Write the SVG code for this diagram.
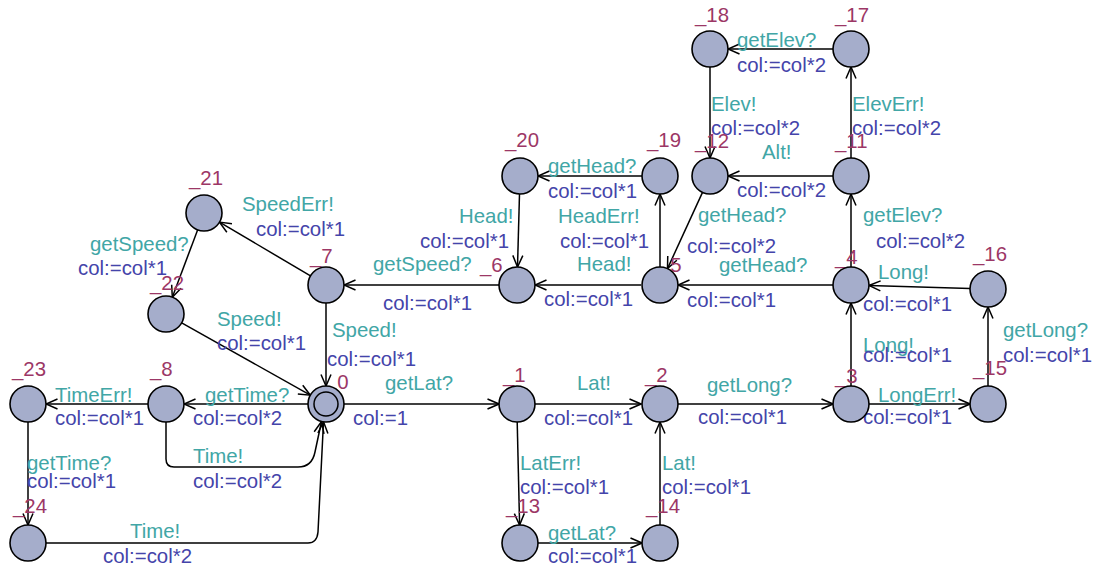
<svg xmlns="http://www.w3.org/2000/svg" width="1095" height="572" viewBox="0 0 1095 572">
<style>
text{font-family:"Liberation Sans",Arial,sans-serif;font-size:20.4px}
.nm{fill:#9c3766}
.sy{fill:#41a6a6}
.as{fill:#4444aa}
.loc{fill:#a5adcb;stroke:#000;stroke-width:1.6}
.e{fill:none;stroke:#000;stroke-width:1.5;marker-end:url(#arr)}
</style>
<defs>
<marker id="arr" viewBox="0 0 13 12" refX="12.5" refY="6" markerWidth="13" markerHeight="12" markerUnits="userSpaceOnUse" orient="auto">
<path d="M1,1 L12.5,6 L1,11" fill="none" stroke="#000" stroke-width="1.5"/>
</marker>
</defs>
<rect width="1095" height="572" fill="#fff"/>
<g id="connectors">
<g><path class="e" d="M344,404 L499,404"/><text class="sy" x="385" y="390">getLat?</text><text class="as" x="353" y="425">col:=1</text></g>
<g><path class="e" d="M535,404 L641,404"/><text class="sy" x="577" y="390">Lat!</text><text class="as" x="544" y="425">col:=col*1</text></g>
<g><path class="e" d="M678,404 L833,404"/><text class="sy" x="707" y="392">getLong?</text><text class="as" x="698" y="424">col:=col*1</text></g>
<g><path class="e" d="M869,404 L970,404"/><text class="sy" x="878" y="402">LongErr!</text><text class="as" x="863" y="424">col:=col*1</text></g>
<g><path class="e" d="M988,386 L988,307"/><text class="sy" x="1003" y="337">getLong?</text><text class="as" x="1003" y="362">col:=col*1</text></g>
<g><path class="e" d="M970,288.5 L869,285.5"/><text class="sy" x="878" y="279">Long!</text><text class="as" x="863" y="311">col:=col*1</text></g>
<g><path class="e" d="M851,386 L851,303"/><text class="sy" x="863" y="352">Long!</text><text class="as" x="863" y="362">col:=col*1</text></g>
<g><path class="e" d="M833,285 L678,285"/><text class="sy" x="719" y="272">getHead?</text><text class="as" x="687" y="307">col:=col*1</text></g>
<g><path class="e" d="M851,267 L851,194"/><text class="sy" x="863" y="222">getElev?</text><text class="as" x="876" y="248">col:=col*2</text></g>
<g><path class="e" d="M851,158 L851,67"/><text class="sy" x="852" y="111">ElevErr!</text><text class="as" x="852" y="135">col:=col*2</text></g>
<g><path class="e" d="M833,49 L728,49"/><text class="sy" x="737" y="47">getElev?</text><text class="as" x="737" y="72">col:=col*2</text></g>
<g><path class="e" d="M710,67 L710,158"/><text class="sy" x="711" y="111">Elev!</text><text class="as" x="711" y="135">col:=col*2</text></g>
<g><path class="e" d="M833,176 L728,176"/><text class="sy" x="762" y="159">Alt!</text><text class="as" x="737" y="197">col:=col*2</text></g>
<g><path class="e" d="M702.5,192.4 L667.5,268.6"/><text class="sy" x="698" y="222">getHead?</text><text class="as" x="687" y="253">col:=col*2</text></g>
<g><path class="e" d="M660,267 L660,194"/><text class="sy" x="558" y="223">HeadErr!</text><text class="as" x="560" y="248">col:=col*1</text></g>
<g><path class="e" d="M642,176 L538,176"/><text class="sy" x="548" y="173">getHead?</text><text class="as" x="548" y="198">col:=col*1</text></g>
<g><path class="e" d="M519.5,194 L517.5,267"/><text class="sy" x="459" y="223">Head!</text><text class="as" x="420" y="248">col:=col*1</text></g>
<g><path class="e" d="M641,285 L535,285"/><text class="sy" x="577" y="271">Head!</text><text class="as" x="544" y="306">col:=col*1</text></g>
<g><path class="e" d="M499,285 L344,285"/><text class="sy" x="373" y="271">getSpeed?</text><text class="as" x="383" y="310">col:=col*1</text></g>
<g><path class="e" d="M310.5,275.9 L219.5,222.1"/><text class="sy" x="242" y="211">SpeedErr!</text><text class="as" x="256" y="236">col:=col*1</text></g>
<g><path class="e" d="M197.7,229.8 L172.3,297.2"/><text class="sy" x="90" y="251">getSpeed?</text><text class="as" x="78" y="275">col:=col*1</text></g>
<g><path class="e" d="M181.7,322.8 L310.3,395.2"/><text class="sy" x="217" y="326">Speed!</text><text class="as" x="217" y="350">col:=col*1</text></g>
<g><path class="e" d="M326,303 L326,386"/><text class="sy" x="332" y="337">Speed!</text><text class="as" x="327" y="366">col:=col*1</text></g>
<g><path class="e" d="M308,404 L184,404"/><text class="sy" x="205" y="402">getTime?</text><text class="as" x="193" y="425">col:=col*2</text></g>
<g><path class="e" d="M148,404 L46,404"/><text class="sy" x="55" y="402">TimeErr!</text><text class="as" x="55" y="425">col:=col*1</text></g>
<g><path class="e" d="M28,422 L28,525"/><text class="sy" x="27" y="470">getTime?</text><text class="as" x="27" y="488">col:=col*1</text></g>
<g><path class="e" d="M166,422 L166,459 Q166,467 174,467 L298,467 Q312,467 315,452 L321.5,421.5"/><text class="sy" x="193" y="463">Time!</text><text class="as" x="193" y="488">col:=col*2</text></g>
<g><path class="e" d="M46,543 L308,543 Q317,543 318,532 L323.5,421.8"/><text class="sy" x="130" y="538">Time!</text><text class="as" x="103" y="563">col:=col*2</text></g>
<g><path class="e" d="M538,543 L642,543"/><text class="sy" x="548" y="540">getLat?</text><text class="as" x="548" y="563">col:=col*1</text></g>
<g><path class="e" d="M517.2,422 L519.6,525"/><text class="sy" x="520" y="470">LatErr!</text><text class="as" x="520" y="494">col:=col*1</text></g>
<g><path class="e" d="M660,525 L660,422"/><text class="sy" x="662" y="470">Lat!</text><text class="as" x="662" y="494">col:=col*1</text></g>
</g>
<g id="n0"><text class="nm" x="326" y="389">_0</text><circle class="loc" cx="326" cy="404" r="18"/><circle cx="326" cy="404" r="12" fill="none" stroke="#000" stroke-width="1.5"/></g>
<g id="n1"><text class="nm" x="503" y="382">_1</text><circle class="loc" cx="517" cy="404" r="18"/></g>
<g id="n2"><text class="nm" x="645" y="382">_2</text><circle class="loc" cx="660" cy="404" r="18"/></g>
<g id="n3"><text class="nm" x="835" y="383">_3</text><circle class="loc" cx="851" cy="404" r="18"/></g>
<g id="n4"><text class="nm" x="835" y="264">_4</text><circle class="loc" cx="851" cy="285" r="18"/></g>
<g id="n5"><text class="nm" x="659" y="272">_5</text><circle class="loc" cx="660" cy="285" r="18"/></g>
<g id="n6"><text class="nm" x="480" y="272">_6</text><circle class="loc" cx="517" cy="285" r="18"/></g>
<g id="n7"><text class="nm" x="310" y="263">_7</text><circle class="loc" cx="326" cy="285" r="18"/></g>
<g id="n8"><text class="nm" x="150" y="376">_8</text><circle class="loc" cx="166" cy="404" r="18"/></g>
<g id="n11"><text class="nm" x="835" y="148">_11</text><circle class="loc" cx="851" cy="176" r="18"/></g>
<g id="n12"><text class="nm" x="695" y="148">_12</text><circle class="loc" cx="710" cy="176" r="18"/></g>
<g id="n13"><text class="nm" x="506" y="513">_13</text><circle class="loc" cx="520" cy="543" r="18"/></g>
<g id="n14"><text class="nm" x="646" y="513">_14</text><circle class="loc" cx="660" cy="543" r="18"/></g>
<g id="n15"><text class="nm" x="973" y="375">_15</text><circle class="loc" cx="988" cy="404" r="18"/></g>
<g id="n16"><text class="nm" x="973" y="261">_16</text><circle class="loc" cx="988" cy="289" r="18"/></g>
<g id="n17"><text class="nm" x="835" y="22">_17</text><circle class="loc" cx="851" cy="49" r="18"/></g>
<g id="n18"><text class="nm" x="695" y="22">_18</text><circle class="loc" cx="710" cy="49" r="18"/></g>
<g id="n19"><text class="nm" x="647" y="147">_19</text><circle class="loc" cx="660" cy="176" r="18"/></g>
<g id="n20"><text class="nm" x="505" y="147">_20</text><circle class="loc" cx="520" cy="176" r="18"/></g>
<g id="n21"><text class="nm" x="189" y="185">_21</text><circle class="loc" cx="204" cy="213" r="18"/></g>
<g id="n22"><text class="nm" x="150" y="290">_22</text><circle class="loc" cx="166" cy="314" r="18"/></g>
<g id="n23"><text class="nm" x="12" y="376">_23</text><circle class="loc" cx="28" cy="404" r="18"/></g>
<g id="n24"><text class="nm" x="13" y="513">_24</text><circle class="loc" cx="28" cy="543" r="18"/></g>
</svg>
